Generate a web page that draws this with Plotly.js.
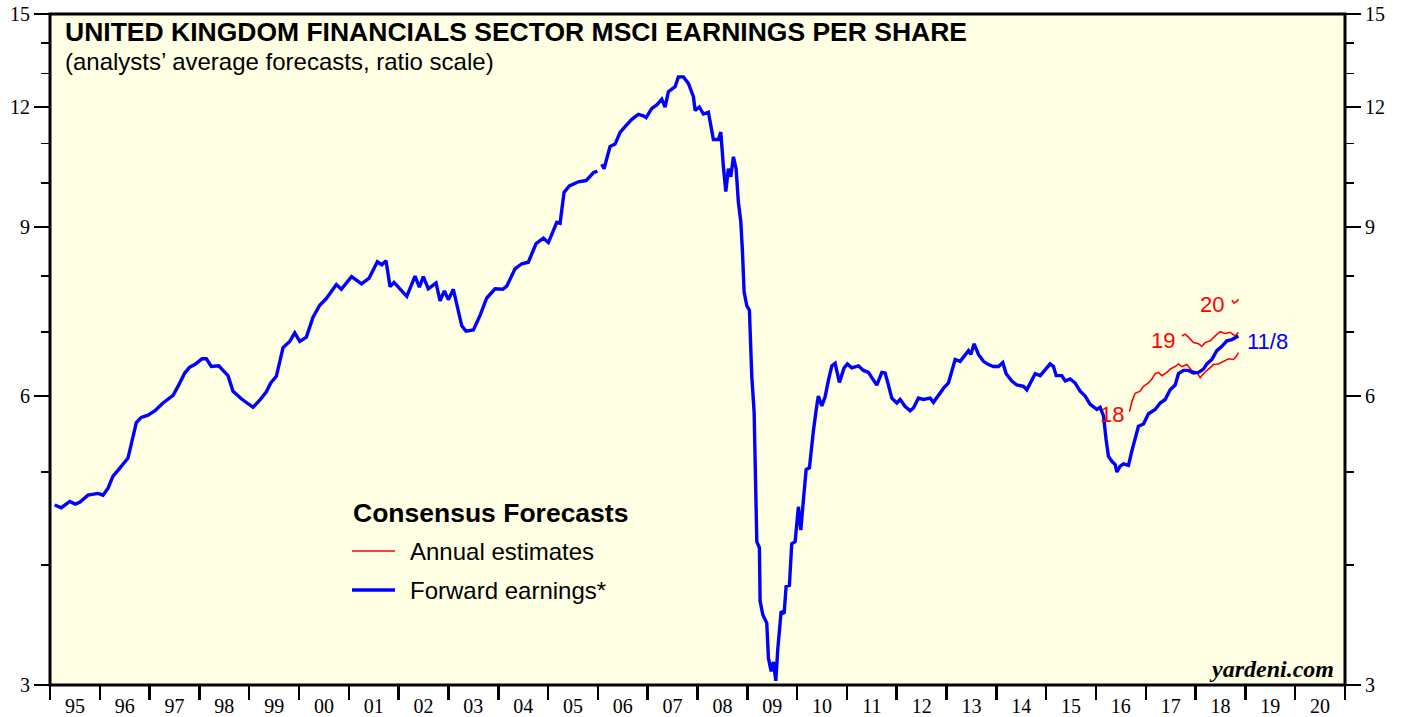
<!DOCTYPE html>
<html>
<head>
<meta charset="utf-8">
<script src="https://cdn.plot.ly/plotly-3.0.1.min.js"></script>
<style>html,body{margin:0;padding:0;background:#fff;}#chart{width:1405px;height:717px;}</style>
</head>
<body>
<div id="chart"></div>
<script>
// ---- Data ----
// Forward earnings (decimal year, EPS)
const fwdYears = [1995.094,1995.227,1995.396,1995.508,1995.596,1995.763,1995.964,1996.064,1996.165,1996.265,1996.365,1996.566,1996.733,1996.833,1996.968,1997.102,1997.269,1997.470,1997.570,1997.705,1997.805,1997.906,1998.052,1998.139,1998.239,1998.388,1998.474,1998.574,1998.675,1998.841,1999.076,1999.211,1999.343,1999.432,1999.544,1999.679,1999.813,1999.914,2000.014,2000.147,2000.281,2000.416,2000.548,2000.749,2000.849,2001.054,2001.255,2001.406,2001.572,2001.661,2001.747,2001.827,2001.908,2002.028,2002.163,2002.329,2002.416,2002.496,2002.596,2002.751,2002.831,2002.918,2002.998,2003.098,2003.267,2003.353,2003.500,2003.635,2003.769,2003.936,2004.090,2004.170,2004.337,2004.472,2004.604,2004.759,2004.906,2005.006,2005.175,2005.241,2005.321,2005.428,2005.608,2005.763,2005.910,2005.990,2006.030,2006.078,2006.124,2006.178,2006.245,2006.345,2006.446,2006.546,2006.681,2006.813,2006.914,2006.968,2007.082,2007.183,2007.283,2007.349,2007.416,2007.550,2007.616,2007.717,2007.817,2007.918,2007.952,2008.038,2008.118,2008.219,2008.319,2008.420,2008.468,2008.520,2008.568,2008.620,2008.668,2008.721,2008.775,2008.821,2008.869,2008.902,2008.936,2008.990,2009.042,2009.090,2009.137,2009.191,2009.243,2009.257,2009.311,2009.391,2009.424,2009.478,2009.524,2009.572,2009.612,2009.679,2009.739,2009.779,2009.845,2009.892,2009.960,2010.026,2010.074,2010.127,2010.181,2010.247,2010.275,2010.327,2010.388,2010.426,2010.496,2010.562,2010.628,2010.696,2010.763,2010.849,2010.944,2011.010,2011.098,2011.231,2011.331,2011.432,2011.500,2011.600,2011.701,2011.767,2011.833,2011.901,2012.001,2012.068,2012.169,2012.269,2012.335,2012.436,2012.536,2012.671,2012.737,2012.837,2012.938,2013.038,2013.106,2013.173,2013.273,2013.373,2013.440,2013.488,2013.554,2013.641,2013.741,2013.841,2013.942,2014.042,2014.130,2014.197,2014.311,2014.411,2014.544,2014.612,2014.679,2014.779,2014.880,2014.980,2015.080,2015.147,2015.201,2015.315,2015.382,2015.482,2015.582,2015.683,2015.783,2015.884,2016.018,2016.084,2016.151,2016.205,2016.251,2016.319,2016.386,2016.420,2016.486,2016.552,2016.653,2016.721,2016.787,2016.853,2016.954,2017.054,2017.189,2017.289,2017.390,2017.490,2017.590,2017.657,2017.757,2017.857,2017.958,2018.058,2018.159,2018.227,2018.327,2018.427,2018.528,2018.628,2018.729,2018.829,2018.860];
const fwdEPS = [4.62,4.59,4.66,4.63,4.65,4.73,4.75,4.73,4.81,4.95,5.02,5.17,5.63,5.70,5.73,5.79,5.90,6.01,6.14,6.34,6.43,6.47,6.56,6.56,6.44,6.45,6.38,6.30,6.07,5.96,5.84,5.94,6.06,6.19,6.29,6.74,6.84,6.98,6.84,6.91,7.25,7.46,7.58,7.84,7.75,7.99,7.85,7.96,8.28,8.22,8.30,7.80,7.88,7.75,7.62,8.00,7.79,7.99,7.76,7.87,7.54,7.72,7.56,7.75,7.10,7.01,7.03,7.28,7.59,7.76,7.75,7.81,8.14,8.24,8.27,8.65,8.76,8.67,9.10,9.08,9.78,9.93,10.03,10.06,10.25,10.29,null,10.46,10.35,10.60,10.92,10.98,11.29,11.45,11.65,11.79,11.75,11.70,11.96,12.06,12.23,12.00,12.45,12.60,12.90,12.90,12.70,12.30,11.90,12.00,11.80,11.85,11.10,11.10,11.30,10.40,9.80,10.35,10.15,10.65,10.35,9.55,9.12,8.50,7.70,7.45,7.37,6.29,5.77,4.23,4.17,3.67,3.55,3.48,3.20,3.10,3.17,3.03,3.27,3.58,3.56,3.80,3.81,4.21,4.23,4.60,4.35,4.68,5.03,5.05,5.25,5.52,5.83,6.00,5.86,5.99,6.23,6.45,6.49,6.20,6.42,6.48,6.42,6.45,6.38,6.35,6.27,6.16,6.35,6.34,6.16,5.97,5.90,5.95,5.85,5.79,5.83,5.97,5.95,5.97,5.91,6.01,6.11,6.19,6.35,6.55,6.52,6.61,6.69,6.63,6.80,6.63,6.52,6.47,6.44,6.44,6.50,6.33,6.22,6.16,6.14,6.09,6.19,6.33,6.30,6.40,6.48,6.44,6.30,6.30,6.22,6.25,6.19,6.07,6.00,5.88,5.81,5.84,5.72,5.40,5.19,5.13,5.09,5.00,5.07,5.10,5.08,5.26,5.40,5.58,5.61,5.75,5.81,5.90,5.95,6.09,6.16,6.33,6.38,6.38,6.34,6.35,6.40,6.48,6.55,6.69,6.76,6.85,6.87,6.91,6.93];

// Annual estimates: 2018
const est18Years = [2016.673,2016.721,2016.787,2016.888,2016.954,2017.054,2017.122,2017.189,2017.255,2017.323,2017.423,2017.490,2017.590,2017.657,2017.724,2017.825,2017.925,2018.026,2018.092,2018.159,2018.259,2018.359,2018.460,2018.560,2018.661,2018.761,2018.829,2018.861];
const est18EPS = [5.78,5.92,6.04,6.07,6.14,6.19,6.25,6.33,6.35,6.30,6.35,6.40,6.44,6.48,6.44,6.47,6.38,6.35,6.27,6.33,6.40,6.47,6.48,6.52,6.56,6.55,6.61,6.66];
// Annual estimates: 2019
const est19Years = [2017.724,2017.791,2017.857,2017.958,2018.058,2018.126,2018.193,2018.293,2018.394,2018.494,2018.594,2018.695,2018.795,2018.861];
const est19EPS = [6.93,6.96,6.91,6.82,6.80,6.76,6.82,6.85,6.93,7.00,6.97,6.99,6.93,6.99];
// Annual estimates: 2020
const est20Years = [2018.729,2018.775,2018.829,2018.861];
const est20EPS = [7.55,7.50,7.53,7.57];

// Axis ticks / labels
const yearTicks = [1995,1996,1997,1998,1999,2000,2001,2002,2003,2004,2005,2006,2007,2008,2009,2010,2011,2012,2013,2014,2015,2016,2017,2018,2019,2020,2021];
const yearLabelPos = [1995.5,1996.5,1997.5,1998.5,1999.5,2000.5,2001.5,2002.5,2003.5,2004.5,2005.5,2006.5,2007.5,2008.5,2009.5,2010.5,2011.5,2012.5,2013.5,2014.5,2015.5,2016.5,2017.5,2018.5,2019.5,2020.5];
const yearLabels = ['95','96','97','98','99','00','01','02','03','04','05','06','07','08','09','10','11','12','13','14','15','16','17','18','19','20'];
const yMajorTicks = [3,6,9,12,15];
const yMinorTicks = [4,5,7,8,10,11,13,14];

const RED = '#ff0000', BLUE = '#0000ff';
const SERIF = 'Liberation Serif, Times New Roman, serif';
const SANS = 'Liberation Sans, Arial, Helvetica, sans-serif';

const traces = [
  {x: est18Years, y: est18EPS, type: 'scatter', mode: 'lines', line: {color: RED, width: 1.6}, hoverinfo: 'skip', showlegend: false},
  {x: est19Years, y: est19EPS, type: 'scatter', mode: 'lines', line: {color: RED, width: 1.6}, hoverinfo: 'skip', showlegend: false},
  {x: est20Years, y: est20EPS, type: 'scatter', mode: 'lines', line: {color: RED, width: 1.6}, hoverinfo: 'skip', showlegend: false},
  {x: fwdYears, y: fwdEPS, type: 'scatter', mode: 'lines', line: {color: BLUE, width: 3.4}, connectgaps: false, hoverinfo: 'skip', showlegend: false},
  {x: est20Years, y: est20EPS, xaxis: 'x2', yaxis: 'y2', type: 'scatter', mode: 'lines', line: {width: 0}, opacity: 0, hoverinfo: 'skip', showlegend: false}
];

const yCommon = {
  type: 'log', range: [Math.log10(3), Math.log10(15)], tickmode: 'array', tickvals: yMajorTicks,
  ticktext: yMajorTicks.map(String),
  ticks: 'outside', ticklen: 15, tickwidth: 1.5, tickcolor: '#000',
  tickfont: {family: SERIF, size: 20, color: '#000'},
  showgrid: false, zeroline: false, showline: false, fixedrange: true,
  minor: {tickmode: 'array', tickvals: yMinorTicks, ticks: 'outside', ticklen: 8, tickwidth: 1.5, tickcolor: '#000', showgrid: false}
};

const P = (px) => (px - 50) / 1295;       // paper x from pixel
const Q = (py) => (685 - py) / 671;       // paper y from pixel

const layout = {
  width: 1405, height: 717,
  margin: {l: 50, r: 60, t: 14, b: 32, pad: 0},
  paper_bgcolor: '#ffffff', plot_bgcolor: '#ffffe3',
  showlegend: false,
  xaxis: {type: 'linear', range: [1995, 2021], tickmode: 'array', tickvals: yearTicks, showticklabels: false,
          ticks: 'outside', ticklen: 14, tickwidth: 2.5, tickcolor: '#000', showgrid: false, zeroline: false, showline: false, fixedrange: true},
  xaxis2: {type: 'linear', range: [1995, 2021], overlaying: 'x', anchor: 'y', side: 'bottom', tickmode: 'array',
           tickvals: yearLabelPos, ticktext: yearLabels, ticks: 'outside', ticklen: 3, tickcolor: 'rgba(0,0,0,0)',
           tickfont: {family: SERIF, size: 20, color: '#000'}, showgrid: false, zeroline: false, showline: false, fixedrange: true},
  yaxis: Object.assign({}, yCommon, {side: 'left'}),
  yaxis2: Object.assign({}, yCommon, {side: 'right', overlaying: 'y', anchor: 'x'}),
  shapes: [
    {type: 'rect', xref: 'paper', yref: 'paper', x0: 0, x1: 1, y0: 0, y1: 1, line: {color: '#000', width: 3}, layer: 'above'},
    {type: 'line', xref: 'paper', yref: 'paper', x0: P(352), x1: P(395), y0: Q(551), y1: Q(551), line: {color: RED, width: 1.6}},
    {type: 'line', xref: 'paper', yref: 'paper', x0: P(352), x1: P(395), y0: Q(590), y1: Q(590), line: {color: BLUE, width: 3.4}}
  ],
  annotations: [
    {xref: 'paper', yref: 'paper', x: P(63), y: Q(32), xanchor: 'left', yanchor: 'middle', showarrow: false,
     text: '<b>UNITED KINGDOM FINANCIALS SECTOR MSCI EARNINGS PER SHARE</b>', font: {family: SANS, size: 26.5, color: '#000'}},
    {xref: 'paper', yref: 'paper', x: P(63), y: Q(62), xanchor: 'left', yanchor: 'middle', showarrow: false,
     text: '(analysts’ average forecasts, ratio scale)', font: {family: SANS, size: 24, color: '#000'}},
    {xref: 'paper', yref: 'paper', x: P(351), y: Q(513), xanchor: 'left', yanchor: 'middle', showarrow: false,
     text: '<b>Consensus Forecasts</b>', font: {family: SANS, size: 26.5, color: '#000'}},
    {xref: 'paper', yref: 'paper', x: P(408), y: Q(551), xanchor: 'left', yanchor: 'middle', showarrow: false,
     text: 'Annual estimates', font: {family: SANS, size: 24, color: '#000'}},
    {xref: 'paper', yref: 'paper', x: P(408), y: Q(590), xanchor: 'left', yanchor: 'middle', showarrow: false,
     text: 'Forward earnings*', font: {family: SANS, size: 24, color: '#000'}},
    {xref: 'paper', yref: 'paper', x: P(1336), y: Q(669), xanchor: 'right', yanchor: 'middle', showarrow: false,
     text: '<b><i>yardeni.com</i></b>', font: {family: SERIF, size: 24, color: '#000'}},
    {xref: 'paper', yref: 'paper', x: P(1112), y: Q(414), xanchor: 'center', yanchor: 'middle', showarrow: false,
     text: '18', font: {family: SANS, size: 22, color: RED}},
    {xref: 'paper', yref: 'paper', x: P(1163), y: Q(340), xanchor: 'center', yanchor: 'middle', showarrow: false,
     text: '19', font: {family: SANS, size: 22, color: RED}},
    {xref: 'paper', yref: 'paper', x: P(1212), y: Q(304), xanchor: 'center', yanchor: 'middle', showarrow: false,
     text: '20', font: {family: SANS, size: 22, color: RED}},
    {xref: 'paper', yref: 'paper', x: P(1267), y: Q(341), xanchor: 'center', yanchor: 'middle', showarrow: false,
     text: '11/8', font: {family: SANS, size: 22, color: BLUE}}
  ]
};

Plotly.newPlot('chart', traces, layout, {displayModeBar: false, staticPlot: true});
</script>
</body>
</html>
